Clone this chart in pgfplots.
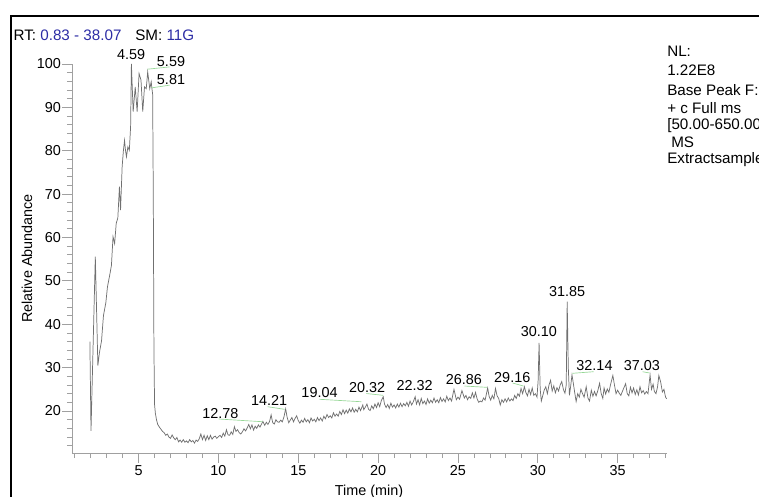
\documentclass[border=0pt]{standalone}
\usepackage{pgfplots}
\pgfplotsset{compat=1.18}
\usepackage{fontspec}
\setmainfont{Liberation Sans}
\definecolor{tracegray}{RGB}{112,112,112}
\definecolor{axgray}{RGB}{160,160,160}
\definecolor{lblue}{RGB}{45,45,165}
\definecolor{lgreen}{RGB}{150,215,150}
\newcommand{\fs}{\fontsize{10.8}{12.5}\selectfont}
\newcommand{\fh}{\fontsize{11.4}{13}\selectfont}
\begin{document}
\begin{tikzpicture}
\begin{axis}[
  at={(0,0)}, anchor=south west,
  scale only axis, width=446pt, height=291.75pt,
  xmin=0.83, xmax=38.07, ymin=10.32, ymax=100,
  axis x line=bottom, axis y line=left,
  axis line style={-, draw=axgray, line width=0.6pt},
  xtick={5,10,...,35}, ytick={20,30,...,100},
  minor xtick={1,2,...,38}, minor ytick={12,14,...,98},
  tick align=outside,
  major tick length=7.5pt, minor tick length=3.75pt,
  tick style={draw=axgray, line width=0.6pt},
  /pgf/number format/assume math mode=true,
  tick label style={font=\fs, text=black},
  yticklabel style={inner sep=0.6pt},
  xticklabel style={inner sep=1.5pt},
  clip=false,
]
\addplot[tracegray, line width=0.55pt, mark=none] coordinates {
(1.95,36.0)(2.02,15.4)(2.29,55.6)(2.45,30.5)(2.55,33.5)(2.68,36.2)(2.8,42.0)(2.95,45.0)
(3.05,48.6)(3.2,51.5)(3.3,53.6)(3.4,60.2)(3.5,58.6)(3.6,63.3)(3.7,64.5)(3.8,71.7)
(3.87,66.3)(3.97,76.3)(4.05,80.1)(4.12,82.4)(4.18,80.1)(4.24,78.6)(4.33,80.9)(4.42,80.1)
(4.50,85.5)(4.55,100)(4.66,89.0)(4.79,94.7)(4.91,89.0)(5.03,97.8)(5.15,96.3)(5.26,89.0)
(5.37,94.7)(5.48,94.3)(5.57,98.2)(5.70,94.3)(5.79,95.9)(5.83,94.5)(5.88,93.0)(5.92,70)
(5.96,35)(6.0,21.5)(6.05,19.5)(6.12,18.0)(6.2,16.9)(6.3,16.3)(6.4,15.8)(6.5,15.3)
(6.6,15.0)(6.7,14.4)(6.8,14.7)(6.9,14.0)(7.0,13.7)(7.1,14.5)(7.2,13.8)(7.3,13.4)
(7.4,13.9)(7.5,12.9)(7.6,13.3)(7.7,12.8)(7.8,13.4)(7.9,12.8)(8.0,13.1)(8.1,12.7)
(8.2,13.4)(8.3,12.9)(8.4,13.2)(8.5,12.6)(8.6,13.3)(8.7,13.0)(8.8,13.6)(8.9,14.7)
(9.0,13.4)(9.1,14.4)(9.2,13.2)(9.3,14.3)(9.4,13.4)(9.5,14.4)(9.6,13.5)(9.7,14.0)
(9.8,14.2)(9.9,13.7)(10.0,14.1)(10.1,14.4)(10.2,13.9)(10.3,14.9)(10.4,14.2)(10.5,15.7)
(10.6,14.5)(10.7,14.4)(10.8,15.2)(10.9,14.6)(11.0,16.4)(11.1,15.3)(11.2,15.7)(11.3,15.0)
(11.4,14.7)(11.5,15.2)(11.6,15.9)(11.7,15.4)(11.8,16.1)(11.9,16.9)(12.0,15.9)(12.1,16.8)
(12.2,15.6)(12.3,16.5)(12.4,16.0)(12.5,16.8)(12.6,16.3)(12.7,17.0)(12.78,17.6)(12.9,16.7)
(13.0,17.4)(13.1,16.9)(13.2,17.6)(13.3,19.1)(13.4,17.3)(13.5,17.0)(13.6,18.0)(13.7,17.5)
(13.8,17.4)(13.9,17.9)(14.0,17.5)(14.1,18.6)(14.21,20.5)(14.3,18.6)(14.4,17.3)(14.5,17.9)
(14.6,18.5)(14.7,17.5)(14.8,18.3)(14.9,18.9)(15.0,17.8)(15.1,17.2)(15.2,17.9)(15.3,17.4)
(15.4,18.3)(15.5,17.5)(15.6,18.0)(15.7,17.3)(15.8,18.4)(15.9,17.7)(16.0,18.1)(16.1,17.5)
(16.2,18.5)(16.3,17.8)(16.4,18.4)(16.5,17.7)(16.6,18.8)(16.7,18.2)(16.8,19.2)(16.9,18.5)
(17.0,18.9)(17.1,18.4)(17.2,19.6)(17.3,18.8)(17.4,19.3)(17.5,18.8)(17.6,19.9)(17.7,19.2)
(17.8,20.3)(17.9,19.4)(18.0,20.2)(18.1,19.5)(18.2,20.5)(18.3,19.8)(18.4,20.7)(18.5,19.7)
(18.6,20.4)(18.7,19.8)(18.8,20.9)(18.9,20.1)(19.04,21.4)(19.1,20.3)(19.2,20.9)(19.3,21.6)
(19.4,20.4)(19.5,20.1)(19.6,21.2)(19.7,20.5)(19.8,21.6)(19.9,20.8)(20.0,21.9)(20.1,21.0)
(20.2,22.4)(20.32,23.3)(20.4,21.6)(20.5,20.8)(20.6,21.5)(20.7,20.6)(20.8,21.8)(20.9,20.9)
(21.0,21.4)(21.1,20.7)(21.2,21.6)(21.3,20.9)(21.4,21.8)(21.5,21.0)(21.6,21.7)(21.7,21.2)
(21.8,22.0)(21.9,21.1)(22.0,22.3)(22.1,21.4)(22.2,22.1)(22.32,23.3)(22.4,21.6)(22.5,22.6)
(22.6,21.4)(22.7,22.9)(22.8,21.7)(22.9,22.3)(23.0,21.5)(23.1,22.8)(23.2,21.8)(23.3,22.5)
(23.4,21.9)(23.5,23.0)(23.6,22.0)(23.7,22.6)(23.8,21.9)(23.9,23.1)(24.0,22.2)(24.1,22.8)
(24.2,22.1)(24.3,23.4)(24.4,22.4)(24.5,23.0)(24.6,22.3)(24.75,25.0)(24.9,22.6)(25.0,23.2)
(25.1,22.7)(25.25,24.7)(25.4,23.0)(25.5,23.6)(25.6,22.6)(25.7,23.3)(25.8,22.9)(25.9,24.2)
(26.0,23.0)(26.1,24.3)(26.2,22.8)(26.3,22.0)(26.4,22.3)(26.5,22.1)(26.6,23.0)(26.7,22.5)
(26.86,25.3)(26.95,23.4)(27.05,22.5)(27.15,23.6)(27.25,22.8)(27.35,25.2)(27.45,23.5)(27.55,22.9)
(27.65,21.4)(27.75,22.6)(27.85,22.0)(27.95,22.8)(28.05,22.1)(28.15,23.0)(28.25,22.3)(28.35,22.8)
(28.45,22.4)(28.55,23.6)(28.65,22.9)(28.75,24.0)(28.85,23.4)(28.95,25.2)(29.05,24.0)(29.16,25.6)
(29.25,24.3)(29.35,23.5)(29.45,25.0)(29.55,23.8)(29.65,25.3)(29.75,23.6)(29.85,24.0)(29.95,23.2)
(30.02,27.0)(30.08,35.7)(30.15,25.0)(30.22,22.3)(30.3,23.4)(30.4,24.8)(30.5,25.6)(30.6,24.0)
(30.7,26.0)(30.8,27.1)(30.9,24.6)(31.0,25.8)(31.1,24.2)(31.2,25.4)(31.3,24.6)(31.4,26.0)
(31.5,26.8)(31.6,25.0)(31.7,24.1)(31.78,26.0)(31.84,45.2)(31.91,30.0)(31.98,23.6)(32.05,25.5)
(32.14,28.3)(32.22,26.5)(32.3,24.5)(32.4,22.2)(32.5,24.0)(32.6,23.2)(32.7,25.0)(32.8,24.0)
(32.9,23.2)(33.03,25.6)(33.14,23.0)(33.24,22.3)(33.35,24.8)(33.45,23.4)(33.55,24.5)(33.65,23.5)
(33.75,24.6)(33.87,26.4)(33.97,24.0)(34.07,22.9)(34.15,25.3)(34.25,23.9)(34.35,25.1)(34.45,24.3)
(34.55,26.0)(34.7,28.2)(34.8,26.0)(34.9,24.0)(35.0,24.8)(35.1,24.1)(35.2,23.6)(35.35,25.0)
(35.5,26.3)(35.6,24.0)(35.7,23.5)(35.8,25.5)(35.9,24.2)(36.0,25.3)(36.1,23.8)(36.2,24.9)
(36.3,23.7)(36.4,25.6)(36.5,24.2)(36.6,24.7)(36.7,23.9)(36.8,24.5)(36.9,24.0)(37.03,28.3)
(37.12,25.0)(37.22,26.2)(37.3,24.5)(37.4,24.0)(37.5,25.6)(37.58,28.2)(37.7,26.6)(37.8,24.4)
(37.9,25.0)(38.0,23.2)(38.07,22.8)
};
% annotation leader lines
\draw[lgreen, line width=0.5pt] (axis cs:5.545,98.8) -- (axis cs:6.94,99.33);
\draw[lgreen, line width=0.5pt] (axis cs:5.795,94.49) -- (axis cs:6.94,95.12);
\draw[lgreen, line width=0.5pt] (axis cs:10.01,18.16) -- (axis cs:12.765,17.53);
\draw[lgreen, line width=0.5pt] (axis cs:13.08,20.99) -- (axis cs:14.14,20.39);
\draw[lgreen, line width=0.5pt] (axis cs:16.33,22.70) -- (axis cs:18.945,22.14);
\draw[lgreen, line width=0.5pt] (axis cs:19.26,24.03) -- (axis cs:20.31,23.62);
\draw[lgreen, line width=0.5pt] (axis cs:25.41,25.76) -- (axis cs:26.81,25.46);
\draw[lgreen, line width=0.5pt] (axis cs:28.42,26.45) -- (axis cs:29.11,25.76);
\draw[lgreen, line width=0.5pt] (axis cs:32.16,28.69) -- (axis cs:33.49,29.06);
\draw[lgreen, line width=0.5pt] (axis cs:36.56,29.06) -- (axis cs:37.0,28.76);
% peak labels
\begin{scope}[every node/.style={font=\fs, inner sep=0pt}]
\node at (axis cs:4.53,102.2) {4.59};
\node at (axis cs:7.03,100.6) {5.59};
\node at (axis cs:7.03,96.4) {5.81};
\node at (axis cs:10.12,19.47) {12.78};
\node at (axis cs:13.17,22.35) {14.21};
\node at (axis cs:16.33,24.33) {19.04};
\node at (axis cs:19.31,25.4) {20.32};
\node at (axis cs:22.28,25.8) {22.32};
\node at (axis cs:25.37,27.3) {26.86};
\node at (axis cs:28.4,27.7) {29.16};
\node at (axis cs:30.07,38.25) {30.10};
\node at (axis cs:31.83,47.5) {31.85};
\node at (axis cs:33.55,30.4) {32.14};
\node at (axis cs:36.52,30.4) {37.03};
\end{scope}
\end{axis}
% frame
\draw[black, line width=1.7pt] (-45.6pt,-60pt) -- (-45.6pt,327.6pt) -- (560pt,327.6pt);
% axis titles
\node[font=\fs, rotate=90, inner sep=0pt] at (-33.75pt,145.9pt) {Relative Abundance};
\node[font=\fs, anchor=base, inner sep=0pt] at (222.75pt,-31.5pt) {Time (min)};
% header
\node[font=\fh, anchor=base west, inner sep=0pt] at (-44pt,309pt) {RT: \textcolor{lblue}{0.83 - 38.07}};
\node[font=\fh, anchor=base west, inner sep=0pt] at (47.25pt,309pt) {SM: \textcolor{lblue}{11G}};
% info block
\begin{scope}[every node/.style={font=\fh, anchor=base west, inner sep=0pt}]
\node at (446.25pt,297pt) {NL:};
\node at (446.25pt,283.1pt) {1.22E8};
\node at (446.25pt,267.75pt) {Base Peak F:};
\node at (446.25pt,254.8pt) {+ c Full ms};
\node at (446.25pt,242.25pt) {[50.00-650.00]};
\node at (449.25pt,229.3pt) {MS};
\node at (446.25pt,216.75pt) {Extractsample};
\end{scope}
\pgfresetboundingbox
\path[use as bounding box] (-54pt,-32.25pt) rectangle (515.25pt,339.75pt);
\end{tikzpicture}
\end{document}
